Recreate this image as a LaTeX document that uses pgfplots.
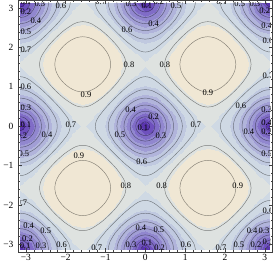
\documentclass[border=0pt]{standalone}
\usepackage{pgfplots}
\pgfplotsset{compat=1.18}
\usepackage{pgfplotstable}
\usepackage{fontspec}
\setmainfont{Liberation Serif}

\pgfplotstableread[row sep=\\]{x y\\ 0.1097 0\\ 0.1060 0.0283\\ 0.0950 0.0548\\ 0.0775 0.0775\\ 0.0548 0.0950\\ 0.0283 0.1060\\ 0 0.1097\\ -0.0283 0.1060\\ -0.0548 0.0950\\ -0.0775 0.0775\\ -0.0950 0.0548\\ -0.1060 0.0283\\ -0.1097 0\\ -0.1060 -0.0283\\ -0.0950 -0.0548\\ -0.0775 -0.0775\\ -0.0548 -0.0950\\ -0.0283 -0.1060\\ 0 -0.1097\\ 0.0283 -0.1060\\ 0.0548 -0.0950\\ 0.0775 -0.0775\\ 0.0950 -0.0548\\ 0.1060 -0.0283\\ 0.1097 0\\}\Lone
\pgfplotstableread[row sep=\\]{x y\\ 0.2389 0\\ 0.2306 0.0613\\ 0.2064 0.1186\\ 0.1681 0.1681\\ 0.1186 0.2064\\ 0.0613 0.2306\\ 0 0.2389\\ -0.0613 0.2306\\ -0.1186 0.2064\\ -0.1681 0.1681\\ -0.2064 0.1186\\ -0.2306 0.0613\\ -0.2389 0\\ -0.2306 -0.0613\\ -0.2064 -0.1186\\ -0.1681 -0.1681\\ -0.1186 -0.2064\\ -0.0613 -0.2306\\ 0 -0.2389\\ 0.0613 -0.2306\\ 0.1186 -0.2064\\ 0.1681 -0.1681\\ 0.2064 -0.1186\\ 0.2306 -0.0613\\ 0.2389 0\\}\Ltwo
\pgfplotstableread[row sep=\\]{x y\\ 0.3802 0\\ 0.3666 0.0962\\ 0.3272 0.1867\\ 0.2655 0.2655\\ 0.1867 0.3272\\ 0.0962 0.3666\\ 0 0.3802\\ -0.0962 0.3666\\ -0.1867 0.3272\\ -0.2655 0.2655\\ -0.3272 0.1867\\ -0.3666 0.0962\\ -0.3802 0\\ -0.3666 -0.0962\\ -0.3272 -0.1867\\ -0.2655 -0.2655\\ -0.1867 -0.3272\\ -0.0962 -0.3666\\ 0 -0.3802\\ 0.0962 -0.3666\\ 0.1867 -0.3272\\ 0.2655 -0.2655\\ 0.3272 -0.1867\\ 0.3666 -0.0962\\ 0.3802 0\\}\Lthree
\pgfplotstableread[row sep=\\]{x y\\ 0.5362 0\\ 0.5161 0.1326\\ 0.4583 0.2583\\ 0.3696 0.3696\\ 0.2583 0.4583\\ 0.1326 0.5161\\ 0 0.5362\\ -0.1326 0.5161\\ -0.2583 0.4583\\ -0.3696 0.3696\\ -0.4583 0.2583\\ -0.5161 0.1326\\ -0.5362 0\\ -0.5161 -0.1326\\ -0.4583 -0.2583\\ -0.3696 -0.3696\\ -0.2583 -0.4583\\ -0.1326 -0.5161\\ 0 -0.5362\\ 0.1326 -0.5161\\ 0.2583 -0.4583\\ 0.3696 -0.3696\\ 0.4583 -0.2583\\ 0.5161 -0.1326\\ 0.5362 0\\}\Lfour
\pgfplotstableread[row sep=\\]{x y\\ 0.7138 0\\ 0.6847 0.1703\\ 0.6029 0.3335\\ 0.4813 0.4813\\ 0.3335 0.6029\\ 0.1703 0.6847\\ 0 0.7138\\ -0.1703 0.6847\\ -0.3335 0.6029\\ -0.4813 0.4813\\ -0.6029 0.3335\\ -0.6847 0.1703\\ -0.7138 0\\ -0.6847 -0.1703\\ -0.6029 -0.3335\\ -0.4813 -0.4813\\ -0.3335 -0.6029\\ -0.1703 -0.6847\\ 0 -0.7138\\ 0.1703 -0.6847\\ 0.3335 -0.6029\\ 0.4813 -0.4813\\ 0.6029 -0.3335\\ 0.6847 -0.1703\\ 0.7138 0\\}\Lfive
\pgfplotstableread[row sep=\\]{x y\\ 0.9302 0\\ 0.9187 0.1048\\ 0.8858 0.2090\\ 0.7675 0.4125\\ 0.6028 0.6028\\ 0.4125 0.7675\\ 0.2090 0.8858\\ 0.1048 0.9187\\ 0 0.9302\\ -0.1048 0.9187\\ -0.2090 0.8858\\ -0.4125 0.7675\\ -0.6028 0.6028\\ -0.7675 0.4125\\ -0.8858 0.2090\\ -0.9187 0.1048\\ -0.9302 0\\ -0.9187 -0.1048\\ -0.8858 -0.2090\\ -0.7675 -0.4125\\ -0.6028 -0.6028\\ -0.4125 -0.7675\\ -0.2090 -0.8858\\ -0.1048 -0.9187\\ 0 -0.9302\\ 0.1048 -0.9187\\ 0.2090 -0.8858\\ 0.4125 -0.7675\\ 0.6028 -0.6028\\ 0.7675 -0.4125\\ 0.8858 -0.2090\\ 0.9187 -0.1048\\ 0.9302 0\\}\Lsix
\pgfplotstableread[row sep=\\]{x y\\ 1.2580 0\\ 1.2326 0.1245\\ 1.1658 0.2488\\ 0.9685 0.4958\\ 0.7380 0.7380\\ 0.4958 0.9685\\ 0.2488 1.1658\\ 0.1245 1.2326\\ 0 1.2580\\ -0.1245 1.2326\\ -0.2488 1.1658\\ -0.4958 0.9685\\ -0.7380 0.7380\\ -0.9685 0.4958\\ -1.1658 0.2488\\ -1.2326 0.1245\\ -1.2580 0\\ -1.2326 -0.1245\\ -1.1658 -0.2488\\ -0.9685 -0.4958\\ -0.7380 -0.7380\\ -0.4958 -0.9685\\ -0.2488 -1.1658\\ -0.1245 -1.2326\\ 0 -1.2580\\ 0.1245 -1.2326\\ 0.2488 -1.1658\\ 0.4958 -0.9685\\ 0.7380 -0.7380\\ 0.9685 -0.4958\\ 1.1658 -0.2488\\ 1.2326 -0.1245\\ 1.2580 0\\}\Lseven
\pgfplotstableread[row sep=\\]{x y\\ 1.0850 0\\ 1.0690 0.1157\\ 1.0239 0.2309\\ 0.8724 0.4579\\ 0.6755 0.6755\\ 0.4579 0.8724\\ 0.2309 1.0239\\ 0.1157 1.0690\\ 0 1.0850\\ -0.1157 1.0690\\ -0.2309 1.0239\\ -0.4579 0.8724\\ -0.6755 0.6755\\ -0.8724 0.4579\\ -1.0239 0.2309\\ -1.0690 0.1157\\ -1.0850 0\\ -1.0690 -0.1157\\ -1.0239 -0.2309\\ -0.8724 -0.4579\\ -0.6755 -0.6755\\ -0.4579 -0.8724\\ -0.2309 -1.0239\\ -0.1157 -1.0690\\ 0 -1.0850\\ 0.1157 -1.0690\\ 0.2309 -1.0239\\ 0.4579 -0.8724\\ 0.6755 -0.6755\\ 0.8724 -0.4579\\ 1.0239 -0.2309\\ 1.0690 -0.1157\\ 1.0850 0\\}\Leight
\pgfplotstableread[row sep=\\]{x y\\ 0.7025 0\\ 0.6740 0.1680\\ 0.5938 0.3290\\ 0.4744 0.4744\\ 0.3290 0.5938\\ 0.1680 0.6740\\ 0 0.7025\\ -0.1680 0.6740\\ -0.3290 0.5938\\ -0.4744 0.4744\\ -0.5938 0.3290\\ -0.6740 0.1680\\ -0.7025 0\\ -0.6740 -0.1680\\ -0.5938 -0.3290\\ -0.4744 -0.4744\\ -0.3290 -0.5938\\ -0.1680 -0.6740\\ 0 -0.7025\\ 0.1680 -0.6740\\ 0.3290 -0.5938\\ 0.4744 -0.4744\\ 0.5938 -0.3290\\ 0.6740 -0.1680\\ 0.7025 0\\}\Lnine

\pgfplotsset{cl/.style={draw=black, draw opacity=0.45, line width=0.45pt, smooth, no marks}}
\newcommand\oneloop[3]{\addplot[cl] table[x expr=\thisrow{x}+(#1), y expr=\thisrow{y}+(#2)]{#3};}
\newcommand\minat[2]{\oneloop{#1}{#2}{\Lone}\oneloop{#1}{#2}{\Ltwo}\oneloop{#1}{#2}{\Lthree}\oneloop{#1}{#2}{\Lfour}\oneloop{#1}{#2}{\Lfive}\oneloop{#1}{#2}{\Lsix}\oneloop{#1}{#2}{\Lseven}}
\newcommand\maxat[2]{\oneloop{#1}{#2}{\Leight}\oneloop{#1}{#2}{\Lnine}}
\newcommand\lb[3]{\node[font=\fontsize{8.5}{9}\selectfont, inner sep=0pt] at (axis cs:#1,#2) {0.#3};}

\begin{document}
\begin{tikzpicture}
\begin{axis}[at={(0,0)}, anchor=center, scale only axis, width=251.33pt, height=248.39pt,
  hide axis, view={0}{90}, xmin=-3.14159, xmax=3.14159, ymin=-3.14159, ymax=3.14159, zmin=0, zmax=1,
  colormap={mma}{rgb255=(90,52,174) rgb255=(110,80,189) rgb255=(128,108,199) rgb255=(145,135,207) rgb255=(161,158,213) rgb255=(177,180,219) rgb255=(192,201,224) rgb255=(207,217,228) rgb255=(222,226,224) rgb255=(240,231,212) rgb255=(240,231,212)},
  colormap access=piecewise constant, point meta min=0, point meta max=1]
\addplot3[surf, shader=interp, mesh/rows=25, mesh/cols=25] table[row sep=\\] {x y z\\
-3.142 -3.142 0\\ -2.880 -3.142 0.217\\ -2.618 -3.142 0.392\\ -2.356 -3.142 0.536\\ -2.094 -3.142 0.643\\ -1.833 -3.142 0.710\\ -1.571 -3.142 0.732\\ -1.309 -3.142 0.710\\ -1.047 -3.142 0.643\\ -0.785 -3.142 0.536\\ -0.524 -3.142 0.392\\ -0.262 -3.142 0.217\\ 0 -3.142 0\\ 0.262 -3.142 0.217\\ 0.524 -3.142 0.392\\ 0.785 -3.142 0.536\\ 1.047 -3.142 0.643\\ 1.309 -3.142 0.710\\ 1.571 -3.142 0.732\\ 1.833 -3.142 0.710\\ 2.094 -3.142 0.643\\ 2.356 -3.142 0.536\\ 2.618 -3.142 0.392\\ 2.880 -3.142 0.217\\ 3.142 -3.142 0\\
-3.142 -2.880 0.217\\ -2.880 -2.880 0.296\\ -2.618 -2.880 0.437\\ -2.356 -2.880 0.567\\ -2.094 -2.880 0.668\\ -1.833 -2.880 0.732\\ -1.571 -2.880 0.754\\ -1.309 -2.880 0.732\\ -1.047 -2.880 0.668\\ -0.785 -2.880 0.567\\ -0.524 -2.880 0.437\\ -0.262 -2.880 0.296\\ 0 -2.880 0.217\\ 0.262 -2.880 0.296\\ 0.524 -2.880 0.437\\ 0.785 -2.880 0.567\\ 1.047 -2.880 0.668\\ 1.309 -2.880 0.732\\ 1.571 -2.880 0.754\\ 1.833 -2.880 0.732\\ 2.094 -2.880 0.668\\ 2.356 -2.880 0.567\\ 2.618 -2.880 0.437\\ 2.880 -2.880 0.296\\ 3.142 -2.880 0.217\\
-3.142 -2.618 0.392\\ -2.880 -2.618 0.437\\ -2.618 -2.618 0.536\\ -2.356 -2.618 0.643\\ -2.094 -2.618 0.732\\ -1.833 -2.618 0.790\\ -1.571 -2.618 0.809\\ -1.309 -2.618 0.790\\ -1.047 -2.618 0.732\\ -0.785 -2.618 0.643\\ -0.524 -2.618 0.536\\ -0.262 -2.618 0.437\\ 0 -2.618 0.392\\ 0.262 -2.618 0.437\\ 0.524 -2.618 0.536\\ 0.785 -2.618 0.643\\ 1.047 -2.618 0.732\\ 1.309 -2.618 0.790\\ 1.571 -2.618 0.809\\ 1.833 -2.618 0.790\\ 2.094 -2.618 0.732\\ 2.356 -2.618 0.643\\ 2.618 -2.618 0.536\\ 2.880 -2.618 0.437\\ 3.142 -2.618 0.392\\
-3.142 -2.356 0.536\\ -2.880 -2.356 0.567\\ -2.618 -2.356 0.643\\ -2.356 -2.356 0.732\\ -2.094 -2.356 0.809\\ -1.833 -2.356 0.861\\ -1.571 -2.356 0.879\\ -1.309 -2.356 0.861\\ -1.047 -2.356 0.809\\ -0.785 -2.356 0.732\\ -0.524 -2.356 0.643\\ -0.262 -2.356 0.567\\ 0 -2.356 0.536\\ 0.262 -2.356 0.567\\ 0.524 -2.356 0.643\\ 0.785 -2.356 0.732\\ 1.047 -2.356 0.809\\ 1.309 -2.356 0.861\\ 1.571 -2.356 0.879\\ 1.833 -2.356 0.861\\ 2.094 -2.356 0.809\\ 2.356 -2.356 0.732\\ 2.618 -2.356 0.643\\ 2.880 -2.356 0.567\\ 3.142 -2.356 0.536\\
-3.142 -2.094 0.643\\ -2.880 -2.094 0.668\\ -2.618 -2.094 0.732\\ -2.356 -2.094 0.809\\ -2.094 -2.094 0.879\\ -1.833 -2.094 0.925\\ -1.571 -2.094 0.942\\ -1.309 -2.094 0.925\\ -1.047 -2.094 0.879\\ -0.785 -2.094 0.809\\ -0.524 -2.094 0.732\\ -0.262 -2.094 0.668\\ 0 -2.094 0.643\\ 0.262 -2.094 0.668\\ 0.524 -2.094 0.732\\ 0.785 -2.094 0.809\\ 1.047 -2.094 0.879\\ 1.309 -2.094 0.925\\ 1.571 -2.094 0.942\\ 1.833 -2.094 0.925\\ 2.094 -2.094 0.879\\ 2.356 -2.094 0.809\\ 2.618 -2.094 0.732\\ 2.880 -2.094 0.668\\ 3.142 -2.094 0.643\\
-3.142 -1.833 0.710\\ -2.880 -1.833 0.732\\ -2.618 -1.833 0.790\\ -2.356 -1.833 0.861\\ -2.094 -1.833 0.925\\ -1.833 -1.833 0.969\\ -1.571 -1.833 0.985\\ -1.309 -1.833 0.969\\ -1.047 -1.833 0.925\\ -0.785 -1.833 0.861\\ -0.524 -1.833 0.790\\ -0.262 -1.833 0.732\\ 0 -1.833 0.710\\ 0.262 -1.833 0.732\\ 0.524 -1.833 0.790\\ 0.785 -1.833 0.861\\ 1.047 -1.833 0.925\\ 1.309 -1.833 0.969\\ 1.571 -1.833 0.985\\ 1.833 -1.833 0.969\\ 2.094 -1.833 0.925\\ 2.356 -1.833 0.861\\ 2.618 -1.833 0.790\\ 2.880 -1.833 0.732\\ 3.142 -1.833 0.710\\
-3.142 -1.571 0.732\\ -2.880 -1.571 0.754\\ -2.618 -1.571 0.809\\ -2.356 -1.571 0.879\\ -2.094 -1.571 0.942\\ -1.833 -1.571 0.985\\ -1.571 -1.571 1\\ -1.309 -1.571 0.985\\ -1.047 -1.571 0.942\\ -0.785 -1.571 0.879\\ -0.524 -1.571 0.809\\ -0.262 -1.571 0.754\\ 0 -1.571 0.732\\ 0.262 -1.571 0.754\\ 0.524 -1.571 0.809\\ 0.785 -1.571 0.879\\ 1.047 -1.571 0.942\\ 1.309 -1.571 0.985\\ 1.571 -1.571 1\\ 1.833 -1.571 0.985\\ 2.094 -1.571 0.942\\ 2.356 -1.571 0.879\\ 2.618 -1.571 0.809\\ 2.880 -1.571 0.754\\ 3.142 -1.571 0.732\\
-3.142 -1.309 0.710\\ -2.880 -1.309 0.732\\ -2.618 -1.309 0.790\\ -2.356 -1.309 0.861\\ -2.094 -1.309 0.925\\ -1.833 -1.309 0.969\\ -1.571 -1.309 0.985\\ -1.309 -1.309 0.969\\ -1.047 -1.309 0.925\\ -0.785 -1.309 0.861\\ -0.524 -1.309 0.790\\ -0.262 -1.309 0.732\\ 0 -1.309 0.710\\ 0.262 -1.309 0.732\\ 0.524 -1.309 0.790\\ 0.785 -1.309 0.861\\ 1.047 -1.309 0.925\\ 1.309 -1.309 0.969\\ 1.571 -1.309 0.985\\ 1.833 -1.309 0.969\\ 2.094 -1.309 0.925\\ 2.356 -1.309 0.861\\ 2.618 -1.309 0.790\\ 2.880 -1.309 0.732\\ 3.142 -1.309 0.710\\
-3.142 -1.047 0.643\\ -2.880 -1.047 0.668\\ -2.618 -1.047 0.732\\ -2.356 -1.047 0.809\\ -2.094 -1.047 0.879\\ -1.833 -1.047 0.925\\ -1.571 -1.047 0.942\\ -1.309 -1.047 0.925\\ -1.047 -1.047 0.879\\ -0.785 -1.047 0.809\\ -0.524 -1.047 0.732\\ -0.262 -1.047 0.668\\ 0 -1.047 0.643\\ 0.262 -1.047 0.668\\ 0.524 -1.047 0.732\\ 0.785 -1.047 0.809\\ 1.047 -1.047 0.879\\ 1.309 -1.047 0.925\\ 1.571 -1.047 0.942\\ 1.833 -1.047 0.925\\ 2.094 -1.047 0.879\\ 2.356 -1.047 0.809\\ 2.618 -1.047 0.732\\ 2.880 -1.047 0.668\\ 3.142 -1.047 0.643\\
-3.142 -0.785 0.536\\ -2.880 -0.785 0.567\\ -2.618 -0.785 0.643\\ -2.356 -0.785 0.732\\ -2.094 -0.785 0.809\\ -1.833 -0.785 0.861\\ -1.571 -0.785 0.879\\ -1.309 -0.785 0.861\\ -1.047 -0.785 0.809\\ -0.785 -0.785 0.732\\ -0.524 -0.785 0.643\\ -0.262 -0.785 0.567\\ 0 -0.785 0.536\\ 0.262 -0.785 0.567\\ 0.524 -0.785 0.643\\ 0.785 -0.785 0.732\\ 1.047 -0.785 0.809\\ 1.309 -0.785 0.861\\ 1.571 -0.785 0.879\\ 1.833 -0.785 0.861\\ 2.094 -0.785 0.809\\ 2.356 -0.785 0.732\\ 2.618 -0.785 0.643\\ 2.880 -0.785 0.567\\ 3.142 -0.785 0.536\\
-3.142 -0.524 0.392\\ -2.880 -0.524 0.437\\ -2.618 -0.524 0.536\\ -2.356 -0.524 0.643\\ -2.094 -0.524 0.732\\ -1.833 -0.524 0.790\\ -1.571 -0.524 0.809\\ -1.309 -0.524 0.790\\ -1.047 -0.524 0.732\\ -0.785 -0.524 0.643\\ -0.524 -0.524 0.536\\ -0.262 -0.524 0.437\\ 0 -0.524 0.392\\ 0.262 -0.524 0.437\\ 0.524 -0.524 0.536\\ 0.785 -0.524 0.643\\ 1.047 -0.524 0.732\\ 1.309 -0.524 0.790\\ 1.571 -0.524 0.809\\ 1.833 -0.524 0.790\\ 2.094 -0.524 0.732\\ 2.356 -0.524 0.643\\ 2.618 -0.524 0.536\\ 2.880 -0.524 0.437\\ 3.142 -0.524 0.392\\
-3.142 -0.262 0.217\\ -2.880 -0.262 0.296\\ -2.618 -0.262 0.437\\ -2.356 -0.262 0.567\\ -2.094 -0.262 0.668\\ -1.833 -0.262 0.732\\ -1.571 -0.262 0.754\\ -1.309 -0.262 0.732\\ -1.047 -0.262 0.668\\ -0.785 -0.262 0.567\\ -0.524 -0.262 0.437\\ -0.262 -0.262 0.296\\ 0 -0.262 0.217\\ 0.262 -0.262 0.296\\ 0.524 -0.262 0.437\\ 0.785 -0.262 0.567\\ 1.047 -0.262 0.668\\ 1.309 -0.262 0.732\\ 1.571 -0.262 0.754\\ 1.833 -0.262 0.732\\ 2.094 -0.262 0.668\\ 2.356 -0.262 0.567\\ 2.618 -0.262 0.437\\ 2.880 -0.262 0.296\\ 3.142 -0.262 0.217\\
-3.142 0 0\\ -2.880 0 0.217\\ -2.618 0 0.392\\ -2.356 0 0.536\\ -2.094 0 0.643\\ -1.833 0 0.710\\ -1.571 0 0.732\\ -1.309 0 0.710\\ -1.047 0 0.643\\ -0.785 0 0.536\\ -0.524 0 0.392\\ -0.262 0 0.217\\ 0 0 0\\ 0.262 0 0.217\\ 0.524 0 0.392\\ 0.785 0 0.536\\ 1.047 0 0.643\\ 1.309 0 0.710\\ 1.571 0 0.732\\ 1.833 0 0.710\\ 2.094 0 0.643\\ 2.356 0 0.536\\ 2.618 0 0.392\\ 2.880 0 0.217\\ 3.142 0 0\\
-3.142 0.262 0.217\\ -2.880 0.262 0.296\\ -2.618 0.262 0.437\\ -2.356 0.262 0.567\\ -2.094 0.262 0.668\\ -1.833 0.262 0.732\\ -1.571 0.262 0.754\\ -1.309 0.262 0.732\\ -1.047 0.262 0.668\\ -0.785 0.262 0.567\\ -0.524 0.262 0.437\\ -0.262 0.262 0.296\\ 0 0.262 0.217\\ 0.262 0.262 0.296\\ 0.524 0.262 0.437\\ 0.785 0.262 0.567\\ 1.047 0.262 0.668\\ 1.309 0.262 0.732\\ 1.571 0.262 0.754\\ 1.833 0.262 0.732\\ 2.094 0.262 0.668\\ 2.356 0.262 0.567\\ 2.618 0.262 0.437\\ 2.880 0.262 0.296\\ 3.142 0.262 0.217\\
-3.142 0.524 0.392\\ -2.880 0.524 0.437\\ -2.618 0.524 0.536\\ -2.356 0.524 0.643\\ -2.094 0.524 0.732\\ -1.833 0.524 0.790\\ -1.571 0.524 0.809\\ -1.309 0.524 0.790\\ -1.047 0.524 0.732\\ -0.785 0.524 0.643\\ -0.524 0.524 0.536\\ -0.262 0.524 0.437\\ 0 0.524 0.392\\ 0.262 0.524 0.437\\ 0.524 0.524 0.536\\ 0.785 0.524 0.643\\ 1.047 0.524 0.732\\ 1.309 0.524 0.790\\ 1.571 0.524 0.809\\ 1.833 0.524 0.790\\ 2.094 0.524 0.732\\ 2.356 0.524 0.643\\ 2.618 0.524 0.536\\ 2.880 0.524 0.437\\ 3.142 0.524 0.392\\
-3.142 0.785 0.536\\ -2.880 0.785 0.567\\ -2.618 0.785 0.643\\ -2.356 0.785 0.732\\ -2.094 0.785 0.809\\ -1.833 0.785 0.861\\ -1.571 0.785 0.879\\ -1.309 0.785 0.861\\ -1.047 0.785 0.809\\ -0.785 0.785 0.732\\ -0.524 0.785 0.643\\ -0.262 0.785 0.567\\ 0 0.785 0.536\\ 0.262 0.785 0.567\\ 0.524 0.785 0.643\\ 0.785 0.785 0.732\\ 1.047 0.785 0.809\\ 1.309 0.785 0.861\\ 1.571 0.785 0.879\\ 1.833 0.785 0.861\\ 2.094 0.785 0.809\\ 2.356 0.785 0.732\\ 2.618 0.785 0.643\\ 2.880 0.785 0.567\\ 3.142 0.785 0.536\\
-3.142 1.047 0.643\\ -2.880 1.047 0.668\\ -2.618 1.047 0.732\\ -2.356 1.047 0.809\\ -2.094 1.047 0.879\\ -1.833 1.047 0.925\\ -1.571 1.047 0.942\\ -1.309 1.047 0.925\\ -1.047 1.047 0.879\\ -0.785 1.047 0.809\\ -0.524 1.047 0.732\\ -0.262 1.047 0.668\\ 0 1.047 0.643\\ 0.262 1.047 0.668\\ 0.524 1.047 0.732\\ 0.785 1.047 0.809\\ 1.047 1.047 0.879\\ 1.309 1.047 0.925\\ 1.571 1.047 0.942\\ 1.833 1.047 0.925\\ 2.094 1.047 0.879\\ 2.356 1.047 0.809\\ 2.618 1.047 0.732\\ 2.880 1.047 0.668\\ 3.142 1.047 0.643\\
-3.142 1.309 0.710\\ -2.880 1.309 0.732\\ -2.618 1.309 0.790\\ -2.356 1.309 0.861\\ -2.094 1.309 0.925\\ -1.833 1.309 0.969\\ -1.571 1.309 0.985\\ -1.309 1.309 0.969\\ -1.047 1.309 0.925\\ -0.785 1.309 0.861\\ -0.524 1.309 0.790\\ -0.262 1.309 0.732\\ 0 1.309 0.710\\ 0.262 1.309 0.732\\ 0.524 1.309 0.790\\ 0.785 1.309 0.861\\ 1.047 1.309 0.925\\ 1.309 1.309 0.969\\ 1.571 1.309 0.985\\ 1.833 1.309 0.969\\ 2.094 1.309 0.925\\ 2.356 1.309 0.861\\ 2.618 1.309 0.790\\ 2.880 1.309 0.732\\ 3.142 1.309 0.710\\
-3.142 1.571 0.732\\ -2.880 1.571 0.754\\ -2.618 1.571 0.809\\ -2.356 1.571 0.879\\ -2.094 1.571 0.942\\ -1.833 1.571 0.985\\ -1.571 1.571 1\\ -1.309 1.571 0.985\\ -1.047 1.571 0.942\\ -0.785 1.571 0.879\\ -0.524 1.571 0.809\\ -0.262 1.571 0.754\\ 0 1.571 0.732\\ 0.262 1.571 0.754\\ 0.524 1.571 0.809\\ 0.785 1.571 0.879\\ 1.047 1.571 0.942\\ 1.309 1.571 0.985\\ 1.571 1.571 1\\ 1.833 1.571 0.985\\ 2.094 1.571 0.942\\ 2.356 1.571 0.879\\ 2.618 1.571 0.809\\ 2.880 1.571 0.754\\ 3.142 1.571 0.732\\
-3.142 1.833 0.710\\ -2.880 1.833 0.732\\ -2.618 1.833 0.790\\ -2.356 1.833 0.861\\ -2.094 1.833 0.925\\ -1.833 1.833 0.969\\ -1.571 1.833 0.985\\ -1.309 1.833 0.969\\ -1.047 1.833 0.925\\ -0.785 1.833 0.861\\ -0.524 1.833 0.790\\ -0.262 1.833 0.732\\ 0 1.833 0.710\\ 0.262 1.833 0.732\\ 0.524 1.833 0.790\\ 0.785 1.833 0.861\\ 1.047 1.833 0.925\\ 1.309 1.833 0.969\\ 1.571 1.833 0.985\\ 1.833 1.833 0.969\\ 2.094 1.833 0.925\\ 2.356 1.833 0.861\\ 2.618 1.833 0.790\\ 2.880 1.833 0.732\\ 3.142 1.833 0.710\\
-3.142 2.094 0.643\\ -2.880 2.094 0.668\\ -2.618 2.094 0.732\\ -2.356 2.094 0.809\\ -2.094 2.094 0.879\\ -1.833 2.094 0.925\\ -1.571 2.094 0.942\\ -1.309 2.094 0.925\\ -1.047 2.094 0.879\\ -0.785 2.094 0.809\\ -0.524 2.094 0.732\\ -0.262 2.094 0.668\\ 0 2.094 0.643\\ 0.262 2.094 0.668\\ 0.524 2.094 0.732\\ 0.785 2.094 0.809\\ 1.047 2.094 0.879\\ 1.309 2.094 0.925\\ 1.571 2.094 0.942\\ 1.833 2.094 0.925\\ 2.094 2.094 0.879\\ 2.356 2.094 0.809\\ 2.618 2.094 0.732\\ 2.880 2.094 0.668\\ 3.142 2.094 0.643\\
-3.142 2.356 0.536\\ -2.880 2.356 0.567\\ -2.618 2.356 0.643\\ -2.356 2.356 0.732\\ -2.094 2.356 0.809\\ -1.833 2.356 0.861\\ -1.571 2.356 0.879\\ -1.309 2.356 0.861\\ -1.047 2.356 0.809\\ -0.785 2.356 0.732\\ -0.524 2.356 0.643\\ -0.262 2.356 0.567\\ 0 2.356 0.536\\ 0.262 2.356 0.567\\ 0.524 2.356 0.643\\ 0.785 2.356 0.732\\ 1.047 2.356 0.809\\ 1.309 2.356 0.861\\ 1.571 2.356 0.879\\ 1.833 2.356 0.861\\ 2.094 2.356 0.809\\ 2.356 2.356 0.732\\ 2.618 2.356 0.643\\ 2.880 2.356 0.567\\ 3.142 2.356 0.536\\
-3.142 2.618 0.392\\ -2.880 2.618 0.437\\ -2.618 2.618 0.536\\ -2.356 2.618 0.643\\ -2.094 2.618 0.732\\ -1.833 2.618 0.790\\ -1.571 2.618 0.809\\ -1.309 2.618 0.790\\ -1.047 2.618 0.732\\ -0.785 2.618 0.643\\ -0.524 2.618 0.536\\ -0.262 2.618 0.437\\ 0 2.618 0.392\\ 0.262 2.618 0.437\\ 0.524 2.618 0.536\\ 0.785 2.618 0.643\\ 1.047 2.618 0.732\\ 1.309 2.618 0.790\\ 1.571 2.618 0.809\\ 1.833 2.618 0.790\\ 2.094 2.618 0.732\\ 2.356 2.618 0.643\\ 2.618 2.618 0.536\\ 2.880 2.618 0.437\\ 3.142 2.618 0.392\\
-3.142 2.880 0.217\\ -2.880 2.880 0.296\\ -2.618 2.880 0.437\\ -2.356 2.880 0.567\\ -2.094 2.880 0.668\\ -1.833 2.880 0.732\\ -1.571 2.880 0.754\\ -1.309 2.880 0.732\\ -1.047 2.880 0.668\\ -0.785 2.880 0.567\\ -0.524 2.880 0.437\\ -0.262 2.880 0.296\\ 0 2.880 0.217\\ 0.262 2.880 0.296\\ 0.524 2.880 0.437\\ 0.785 2.880 0.567\\ 1.047 2.880 0.668\\ 1.309 2.880 0.732\\ 1.571 2.880 0.754\\ 1.833 2.880 0.732\\ 2.094 2.880 0.668\\ 2.356 2.880 0.567\\ 2.618 2.880 0.437\\ 2.880 2.880 0.296\\ 3.142 2.880 0.217\\
-3.142 3.142 0\\ -2.880 3.142 0.217\\ -2.618 3.142 0.392\\ -2.356 3.142 0.536\\ -2.094 3.142 0.643\\ -1.833 3.142 0.710\\ -1.571 3.142 0.732\\ -1.309 3.142 0.710\\ -1.047 3.142 0.643\\ -0.785 3.142 0.536\\ -0.524 3.142 0.392\\ -0.262 3.142 0.217\\ 0 3.142 0\\ 0.262 3.142 0.217\\ 0.524 3.142 0.392\\ 0.785 3.142 0.536\\ 1.047 3.142 0.643\\ 1.309 3.142 0.710\\ 1.571 3.142 0.732\\ 1.833 3.142 0.710\\ 2.094 3.142 0.643\\ 2.356 3.142 0.536\\ 2.618 3.142 0.392\\ 2.880 3.142 0.217\\ 3.142 3.142 0\\
};
\end{axis}
\begin{axis}[at={(0,0)}, anchor=center, scale only axis, width=251.33pt, height=248.39pt,
  hide axis, xmin=-3.14159, xmax=3.14159, ymin=-3.14159, ymax=3.14159]
\minat{-3.14159}{-3.14159}\minat{0}{-3.14159}\minat{3.14159}{-3.14159}
\minat{-3.14159}{0}\minat{0}{0}\minat{3.14159}{0}
\minat{-3.14159}{3.14159}\minat{0}{3.14159}\minat{3.14159}{3.14159}
\maxat{-1.5708}{-1.5708}\maxat{1.5708}{-1.5708}\maxat{-1.5708}{1.5708}\maxat{1.5708}{1.5708}
\lb{-3.00}{3.15}{1}\lb{-3.00}{2.92}{2}\lb{-2.65}{3.12}{3}\lb{-2.75}{2.69}{4}\lb{-3.00}{2.41}{5}\lb{-2.12}{3.07}{6}
\lb{-1.12}{3.17}{7}\lb{-0.36}{3.12}{3}\lb{-0.46}{2.44}{6}\lb{0.04}{3.05}{1}\lb{0.34}{3.17}{2}\lb{0.21}{2.61}{4}\lb{0.77}{3.07}{5}
\lb{1.92}{3.17}{7}\lb{2.37}{3.12}{5}\lb{2.75}{3.12}{3}\lb{3.00}{2.94}{2}\lb{3.05}{2.56}{4}\lb{3.08}{2.18}{6}
\lb{-3.00}{1.93}{7}\lb{-3.00}{0.99}{6}\lb{-3.00}{0.46}{3}\lb{-3.00}{0.03}{1}\lb{-1.87}{0.03}{7}\lb{-3.10}{-0.25}{2}\lb{-2.47}{-0.23}{4}\lb{-3.05}{-0.69}{5}\lb{-3.10}{-1.95}{7}
\lb{-1.49}{0.79}{9}\lb{-0.41}{1.55}{8}\lb{0.49}{1.55}{8}\lb{1.57}{0.84}{9}\lb{-1.67}{-0.76}{9}\lb{-0.49}{-1.52}{8}\lb{0.41}{-1.52}{8}\lb{2.32}{-1.52}{9}
\lb{-0.37}{0.41}{4}\lb{0.21}{0.25}{2}\lb{-0.06}{-0.05}{1}\lb{0.39}{-0.25}{3}\lb{-0.64}{-0.23}{5}\lb{-0.09}{-0.91}{6}\lb{1.27}{0.03}{7}
\lb{3.08}{1.27}{7}\lb{2.40}{0.53}{6}\lb{3.05}{0.41}{3}\lb{3.05}{0.08}{4}\lb{2.60}{-0.13}{4}\lb{3.05}{-0.13}{2}\lb{3.05}{-0.69}{5}\lb{3.08}{-2.16}{6}
\lb{-2.93}{-2.54}{4}\lb{-2.50}{-2.66}{5}\lb{-2.96}{-2.86}{2}\lb{-3.02}{-3.05}{1}\lb{-2.62}{-3.04}{3}\lb{-2.10}{-3.02}{6}\lb{-1.22}{-3.10}{7}
\lb{-0.11}{-2.59}{4}\lb{0.34}{-2.64}{5}\lb{-0.36}{-3.02}{3}\lb{0.04}{-2.97}{1}\lb{0.36}{-3.10}{2}\lb{1.02}{-3.02}{6}\lb{1.90}{-3.10}{7}
\lb{2.35}{-3.02}{5}\lb{2.68}{-2.66}{4}\lb{2.98}{-2.66}{3}\lb{2.78}{-3.02}{2}\lb{3.08}{-2.94}{1}
\end{axis}
\begin{axis}[at={(0,0)}, anchor=center, scale only axis, width=256pt, height=253pt,
  xmin=-3.2, xmax=3.2, ymin=-3.2, ymax=3.2,
  xtick={-3,-2,-1,0,1,2,3}, ytick={-3,-2,-1,0,1,2,3},
  xticklabels={−3,−2,−1,0,1,2,3}, yticklabels={−3,−2,−1,0,1,2,3},
  minor tick num=4, tick align=inside, tick pos=both,
  major tick length=4pt, minor tick length=2.2pt,
  axis line style={black!75, line width=0.5pt},
  tick style={black!75, line width=0.45pt},
  ticklabel style={font=\fontsize{9.5}{10}\selectfont},
  xticklabel style={yshift=1pt}, yticklabel style={xshift=-1pt}]
\end{axis}
\end{tikzpicture}
\end{document}
